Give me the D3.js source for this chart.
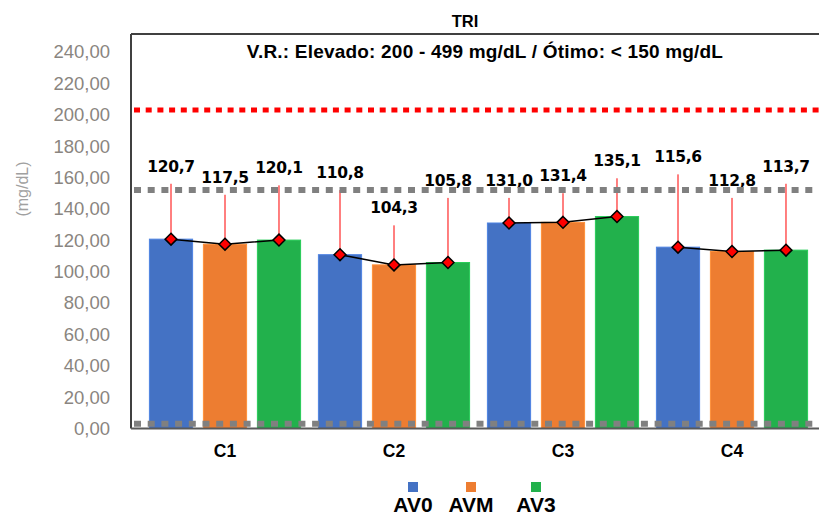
<!DOCTYPE html>
<html>
<head>
<meta charset="utf-8">
<script src="https://cdn.jsdelivr.net/npm/d3@7"></script>
<style>
body { margin: 0; background: #fff; }
svg { font-family: "Liberation Sans", Arial, sans-serif; }
</style>
</head>
<body>
<svg></svg>
<script>
// chart data
const categories = ["C1", "C2", "C3", "C4"];
const series = ["AV0", "AVM", "AV3"];
const colors = ["#4472c4", "#ed7d31", "#22b14c"];
const values = [
  [120.7, 117.5, 120.1],
  [110.8, 104.3, 105.8],
  [131.0, 131.4, 135.1],
  [115.6, 112.8, 113.7]
];
// upper end of the red error lines
const errTop = [
  [156, 149, 155],
  [152, 129.5, 147],
  [147, 150, 159.5],
  [162, 147, 156]
];
const yTicks = [0, 20, 40, 60, 80, 100, 120, 140, 160, 180, 200, 220, 240];
const refHigh = 203;   // red dotted line (elevado)
const refOpt = 152;    // gray dotted line (ótimo)
const refZero = 3;     // gray dotted line at the base

const width = 819;
const height = 516;

const svg = d3.select("svg")
  .attr("width", width)
  .attr("height", height);

const mLeft = 131, mTop = 34, mRight = 830, mBottom = 428.5;

// scales
const y = d3.scaleLinear().domain([0, 240]).range([mBottom, 52]);
const x0 = d3.scaleBand().domain(categories).range([140.5, 816.5]);
const x1 = d3.scaleBand().domain(series).range([0, x0.bandwidth()])
  .paddingInner(0.2).paddingOuter(0.165);

const fmt = v => v.toFixed(2).replace(".", ",");
const fmt1 = v => v.toFixed(1).replace(".", ",");

// title
svg.append("text")
  .attr("x", 465).attr("y", 27)
  .attr("text-anchor", "middle")
  .style("font-size", "16.5px").style("font-weight", "bold")
  .text("TRI");

// frame
svg.append("line")
  .attr("x1", mLeft).attr("x2", mRight).attr("y1", mTop).attr("y2", mTop)
  .attr("stroke", "#404040").attr("stroke-width", 2);
svg.append("line")
  .attr("x1", mLeft).attr("x2", mLeft).attr("y1", mTop).attr("y2", mBottom)
  .attr("stroke", "#404040").attr("stroke-width", 2);

svg.append("text")
  .attr("x", 485).attr("y", 58)
  .attr("text-anchor", "middle")
  .style("font-size", "19px").style("font-weight", "bold")
  .style("letter-spacing", "0.2px")
  .text("V.R.: Elevado: 200 - 499 mg/dL / Ótimo: < 150 mg/dL");

// y axis
const yAxis = svg.append("g")
  .attr("transform", `translate(${mLeft},0)`)
  .call(d3.axisLeft(y).tickValues(yTicks).tickFormat(fmt).tickSize(0).tickPadding(21));
yAxis.select(".domain").remove();
yAxis.selectAll("text")
  .style("font-size", "18.5px")
  .style("font-family", "'Liberation Sans', Arial, sans-serif")
  .attr("fill", "#8a8580");

svg.append("text")
  .attr("transform", "translate(28,189) rotate(-90)")
  .attr("text-anchor", "middle")
  .style("font-size", "16px")
  .attr("fill", "#a0a0a0")
  .text("(mg/dL)");

// bars
const groups = svg.append("g").selectAll("g")
  .data(categories)
  .join("g")
  .attr("transform", d => `translate(${x0(d)},0)`);

groups.selectAll("rect")
  .data((d, i) => values[i].map((v, j) => ({ s: series[j], v, j })))
  .join("rect")
  .attr("x", d => x1(d.s))
  .attr("y", d => y(d.v))
  .attr("width", x1.bandwidth())
  .attr("height", d => mBottom - y(d.v))
  .attr("fill", d => colors[d.j])
  .attr("stroke", d => d3.color(colors[d.j]).brighter(0.4))
  .attr("stroke-width", 1);

// baseline
svg.append("line")
  .attr("x1", mLeft).attr("x2", mRight).attr("y1", mBottom).attr("y2", mBottom)
  .attr("stroke", "#595959").attr("stroke-width", 2);

// reference lines
svg.append("line")
  .attr("x1", mLeft + 3).attr("x2", mRight).attr("y1", y(refHigh)).attr("y2", y(refHigh))
  .attr("stroke", "#ff0000").attr("stroke-width", 5)
  .attr("stroke-dasharray", "6,5.7");
[refOpt, refZero].forEach(r => {
  svg.append("line")
    .attr("x1", mLeft + 3).attr("x2", mRight).attr("y1", y(r)).attr("y2", y(r))
    .attr("stroke", "#808080").attr("stroke-width", 6)
    .attr("stroke-dasharray", "7,6.7");
});

// error lines
groups.selectAll(".err")
  .data((d, i) => values[i].map((v, j) => ({ s: series[j], v, t: errTop[i][j] })))
  .join("line")
  .attr("class", "err")
  .attr("x1", d => x1(d.s) + x1.bandwidth() / 2)
  .attr("x2", d => x1(d.s) + x1.bandwidth() / 2)
  .attr("y1", d => y(d.v))
  .attr("y2", d => y(d.t))
  .attr("stroke", "#ff0000").attr("stroke-width", 1);

// connecting line per category
const line = d3.line()
  .x(d => x1(d.s) + x1.bandwidth() / 2)
  .y(d => y(d.v));
groups.append("path")
  .datum((d, i) => values[i].map((v, j) => ({ s: series[j], v })))
  .attr("d", line)
  .attr("fill", "none")
  .attr("stroke", "#000").attr("stroke-width", 1.5);

// diamond markers
groups.selectAll(".mk")
  .data((d, i) => values[i].map((v, j) => ({ s: series[j], v })))
  .join("path")
  .attr("class", "mk")
  .attr("d", d3.symbol(d3.symbolDiamond2, 90))
  .attr("transform", d => `translate(${x1(d.s) + x1.bandwidth() / 2},${y(d.v)})`)
  .attr("fill", "#ff0000").attr("stroke", "#000").attr("stroke-width", 1.5);

// value labels
groups.selectAll(".lbl")
  .data((d, i) => values[i].map((v, j) => ({ s: series[j], v, t: errTop[i][j] })))
  .join("text")
  .attr("class", "lbl")
  .attr("x", d => x1(d.s) + x1.bandwidth() / 2)
  .attr("y", d => y(d.t) - 12)
  .attr("text-anchor", "middle")
  .style("font-size", "15.5px").style("font-weight", "bold")
  .style("font-family", "'DejaVu Sans', Verdana, sans-serif")
  .style("letter-spacing", "-0.3px")
  .text(d => fmt1(d.v));

// x labels
svg.append("g").selectAll("text")
  .data(categories)
  .join("text")
  .attr("x", d => x0(d) + x0.bandwidth() / 2)
  .attr("y", 457)
  .attr("text-anchor", "middle")
  .style("font-size", "17.5px").style("font-weight", "bold")
  .text(d => d);

// legend
const legX = [413, 471, 536];
const leg = svg.append("g").selectAll("g")
  .data(series)
  .join("g")
  .attr("transform", (d, i) => `translate(${legX[i]},0)`);
leg.append("rect")
  .attr("x", -5).attr("y", 482).attr("width", 10).attr("height", 10)
  .attr("fill", (d, i) => colors[i]);
leg.append("text")
  .attr("y", 512)
  .attr("text-anchor", "middle")
  .style("font-size", "21px").style("font-weight", "bold")
  .text(d => d);
</script>
</body>
</html>
